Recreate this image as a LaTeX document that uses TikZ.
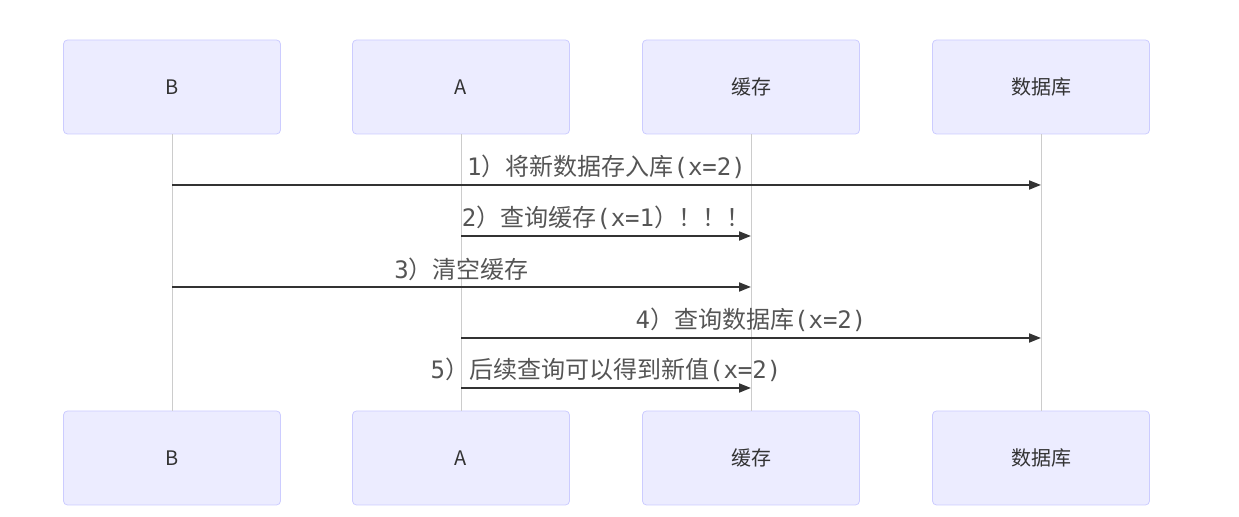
\documentclass[tikz,border=0pt]{standalone}
\usepackage{fontspec}
\setmainfont{Noto Sans CJK SC}
\setmonofont{DejaVu Sans Mono}
\usetikzlibrary{arrows.meta}
\definecolor{fond}{HTML}{ECECFF}
\definecolor{bord}{HTML}{CCCCFF}
\definecolor{ligne}{HTML}{CCCCCC}
\definecolor{texte}{HTML}{555555}

\begin{document}
\begin{tikzpicture}[x=0.5pt,y=-0.5pt]
\tikzstyle{lien}=[-{Triangle[length=6pt,width=4.5pt]},line width=0.9pt,draw=black!80]
\tikzstyle{vie}=[draw=ligne,line width=0.5pt]
\tikzset{acteur/.style={draw=bord,fill=fond,rounded corners=2pt,minimum width=108.5pt,minimum height=47pt,font=\fontsize{10}{12}\selectfont,text=black!80}}
\tikzset{msg/.style={above=2.5pt,inner sep=0pt,font=\fontsize{12}{14}\selectfont,text=texte}}
\useasboundingbox (0,0) rectangle (1239,517);

\node[acteur] (B) at (172,87) {B};
\node[acteur] (A) at (461,87) {A};
\node[acteur] (C) at (751,87) {缓存};
\node[acteur] (D) at (1041,87) {数据库};
\node[acteur] (B2) at (172,458) {B};
\node[acteur] (A2) at (461,458) {A};
\node[acteur] (C2) at (751,458) {缓存};
\node[acteur] (D2) at (1041,458) {数据库};

\draw[vie] (B) -- (B2);
\draw[vie] (A) -- (A2);
\draw[vie] (C) -- (C2);
\draw[vie] (D) -- (D2);

\draw[lien] (B |- 0,185) -- node[msg] {\texttt{1}）将新数据存入库\texttt{(x=2)}} (D |- 0,185);
\draw[lien] (A |- 0,236) -- node[msg] {\texttt{2}）查询缓存\texttt{(x=1}）！！！} (C |- 0,236);
\draw[lien] (B |- 0,287) -- node[msg] {\texttt{3}）清空缓存} (C |- 0,287);
\draw[lien] (A |- 0,338) -- node[msg] {\texttt{4}）查询数据库\texttt{(x=2)}} (D |- 0,338);
\draw[lien] (A |- 0,388) -- node[msg] {\texttt{5}）后续查询可以得到新值\texttt{(x=2)}} (C |- 0,388);

\end{tikzpicture}
\end{document}
